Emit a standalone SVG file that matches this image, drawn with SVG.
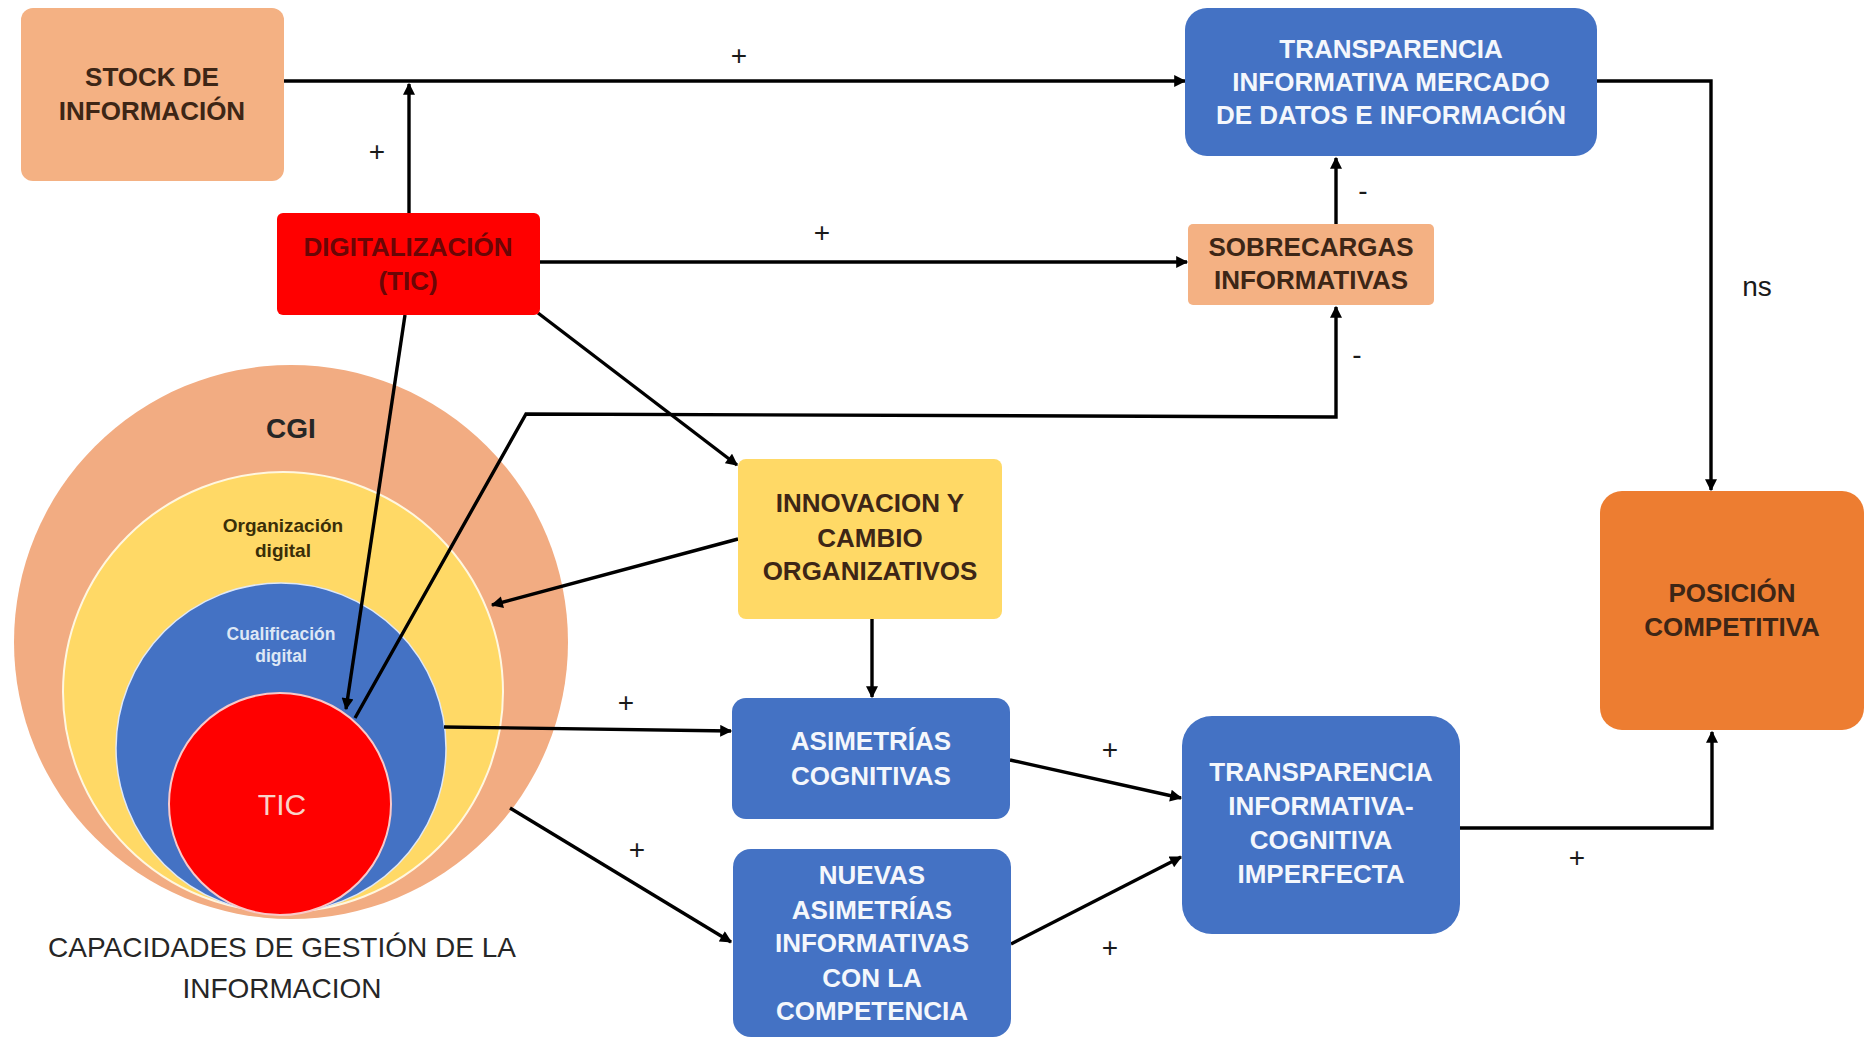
<svg xmlns="http://www.w3.org/2000/svg" width="1870" height="1041" viewBox="0 0 1870 1041">
  <defs>
    <marker id="arrow" viewBox="0 0 10 10" refX="9" refY="5" markerWidth="13" markerHeight="12" markerUnits="userSpaceOnUse" orient="auto">
      <path d="M0,0 L10,5 L0,10 z" fill="#000"/>
    </marker>
  </defs>
  <style>
    .bt{font-family:"Liberation Sans",Arial,sans-serif;font-weight:bold;font-size:26px;text-anchor:middle}
    .dark{fill:#3d2616}
    .maroon{fill:#6a0606}
    .light{fill:#f4f7fc}
    .lbl{font-family:"Liberation Sans",Arial,sans-serif;font-size:28px;fill:#1a1a1a;text-anchor:middle}
    .conn{fill:none;stroke:#000;stroke-width:3.4;stroke-linejoin:miter}
    .arr{marker-end:url(#arrow)}
    .peach{fill:#F4B183}
    .blue{fill:#4472C4}
  </style>
  <rect width="1870" height="1041" fill="#fff"/>

  <!-- nested capability circles -->
  <g id="cgi">
    <circle cx="291" cy="642" r="277" fill="#F2AC82"/>
    <circle cx="283" cy="692" r="220" fill="#FFD966" stroke="#fff7e0" stroke-width="2"/>
    <circle cx="281" cy="748" r="165" fill="#4472C4" stroke="#dfe8f7" stroke-width="1.5"/>
    <circle cx="280" cy="804" r="111" fill="#FF0000" stroke="#f9c9c9" stroke-width="2"/>
    <text x="291" y="438" font-family="Liberation Sans, Arial, sans-serif" font-weight="bold" font-size="28" fill="#262626" text-anchor="middle">CGI</text>
    <text x="283" y="532" font-family="Liberation Sans, Arial, sans-serif" font-weight="bold" font-size="19" fill="#3a2e08" text-anchor="middle">Organización</text>
    <text x="283" y="557" font-family="Liberation Sans, Arial, sans-serif" font-weight="bold" font-size="19" fill="#3a2e08" text-anchor="middle">digital</text>
    <text x="281" y="640" font-family="Liberation Sans, Arial, sans-serif" font-weight="bold" font-size="17.5" fill="#dde7f5" text-anchor="middle">Cualificación</text>
    <text x="281" y="662" font-family="Liberation Sans, Arial, sans-serif" font-weight="bold" font-size="17.5" fill="#dde7f5" text-anchor="middle">digital</text>
    <text x="282" y="815" font-family="Liberation Sans, Arial, sans-serif" font-size="30" fill="#f9d3c8" text-anchor="middle">TIC</text>
    <text x="282" y="957" font-family="Liberation Sans, Arial, sans-serif" font-size="28" fill="#262626" text-anchor="middle">CAPACIDADES DE GESTIÓN DE LA</text>
    <text x="282" y="998" font-family="Liberation Sans, Arial, sans-serif" font-size="28" fill="#262626" text-anchor="middle">INFORMACION</text>
  </g>

  <!-- connectors -->
  <g id="connectors">
    <path class="conn arr" d="M284,81 H1185"/>
    <path class="conn arr" d="M409,213 V84"/>
    <path class="conn arr" d="M540,262 H1187"/>
    <path class="conn arr" d="M1336,224 V158"/>
    <path class="conn arr" d="M355,718 L526,414 L1336,417 V307"/>
    <path class="conn arr" d="M405,315 L346,709"/>
    <path class="conn arr" d="M538,313 L737,465"/>
    <path class="conn arr" d="M738,539 L492,605"/>
    <path class="conn arr" d="M872,619 V697"/>
    <path class="conn arr" d="M444,727 L731,731"/>
    <path class="conn arr" d="M510,808 L731,942"/>
    <path class="conn arr" d="M1010,760 L1181,798"/>
    <path class="conn arr" d="M1011,944 L1181,857"/>
    <path class="conn arr" d="M1460,828 H1712 V732" stroke-width="4.2"/>
    <path class="conn arr" d="M1597,81 H1711 V490"/>
    <text class="lbl" x="739" y="65">+</text>
    <text class="lbl" x="377" y="161">+</text>
    <text class="lbl" x="822" y="242">+</text>
    <text class="lbl" x="1363" y="200">-</text>
    <text class="lbl" x="1357" y="364">-</text>
    <text class="lbl" x="626" y="712">+</text>
    <text class="lbl" x="637" y="859">+</text>
    <text class="lbl" x="1110" y="759">+</text>
    <text class="lbl" x="1110" y="957">+</text>
    <text class="lbl" x="1577" y="867">+</text>
    <text class="lbl" x="1757" y="296" fill="#404040">ns</text>
  </g>

  <!-- nodes -->
  <g id="stock">
    <rect class="peach" x="21" y="8" width="263" height="173" rx="12"/>
    <text class="bt dark" x="152" y="86">STOCK DE</text>
    <text class="bt dark" x="152" y="120">INFORMACIÓN</text>
  </g>
  <g id="digitalizacion">
    <rect x="277" y="213" width="263" height="102" rx="6" fill="#FF0000"/>
    <text class="bt maroon" x="408" y="256">DIGITALIZACIÓN</text>
    <text class="bt maroon" x="408" y="290">(TIC)</text>
  </g>
  <g id="transparencia-mercado">
    <rect class="blue" x="1185" y="8" width="412" height="148" rx="22"/>
    <text class="bt light" x="1391" y="58">TRANSPARENCIA</text>
    <text class="bt light" x="1391" y="91">INFORMATIVA MERCADO</text>
    <text class="bt light" x="1391" y="124">DE DATOS E INFORMACIÓN</text>
  </g>
  <g id="sobrecargas">
    <rect class="peach" x="1188" y="224" width="246" height="81" rx="5"/>
    <text class="bt dark" x="1311" y="256">SOBRECARGAS</text>
    <text class="bt dark" x="1311" y="289">INFORMATIVAS</text>
  </g>
  <g id="posicion">
    <rect x="1600" y="491" width="264" height="239" rx="22" fill="#ED7D31"/>
    <text class="bt dark" x="1732" y="602">POSICIÓN</text>
    <text class="bt dark" x="1732" y="636">COMPETITIVA</text>
  </g>
  <g id="innovacion">
    <rect x="738" y="459" width="264" height="160" rx="8" fill="#FFD966"/>
    <text class="bt dark" x="870" y="512">INNOVACION Y</text>
    <text class="bt dark" x="870" y="547">CAMBIO</text>
    <text class="bt dark" x="870" y="580">ORGANIZATIVOS</text>
  </g>
  <g id="asimetrias-cognitivas">
    <rect class="blue" x="732" y="698" width="278" height="121" rx="14"/>
    <text class="bt light" x="871" y="750">ASIMETRÍAS</text>
    <text class="bt light" x="871" y="785">COGNITIVAS</text>
  </g>
  <g id="nuevas-asimetrias">
    <rect class="blue" x="733" y="849" width="278" height="188" rx="18"/>
    <text class="bt light" x="872" y="884">NUEVAS</text>
    <text class="bt light" x="872" y="919">ASIMETRÍAS</text>
    <text class="bt light" x="872" y="952">INFORMATIVAS</text>
    <text class="bt light" x="872" y="987">CON LA</text>
    <text class="bt light" x="872" y="1020">COMPETENCIA</text>
  </g>
  <g id="transparencia-cognitiva">
    <rect class="blue" x="1182" y="716" width="278" height="218" rx="30"/>
    <text class="bt light" x="1321" y="781">TRANSPARENCIA</text>
    <text class="bt light" x="1321" y="815">INFORMATIVA-</text>
    <text class="bt light" x="1321" y="849">COGNITIVA</text>
    <text class="bt light" x="1321" y="883">IMPERFECTA</text>
  </g>
</svg>
